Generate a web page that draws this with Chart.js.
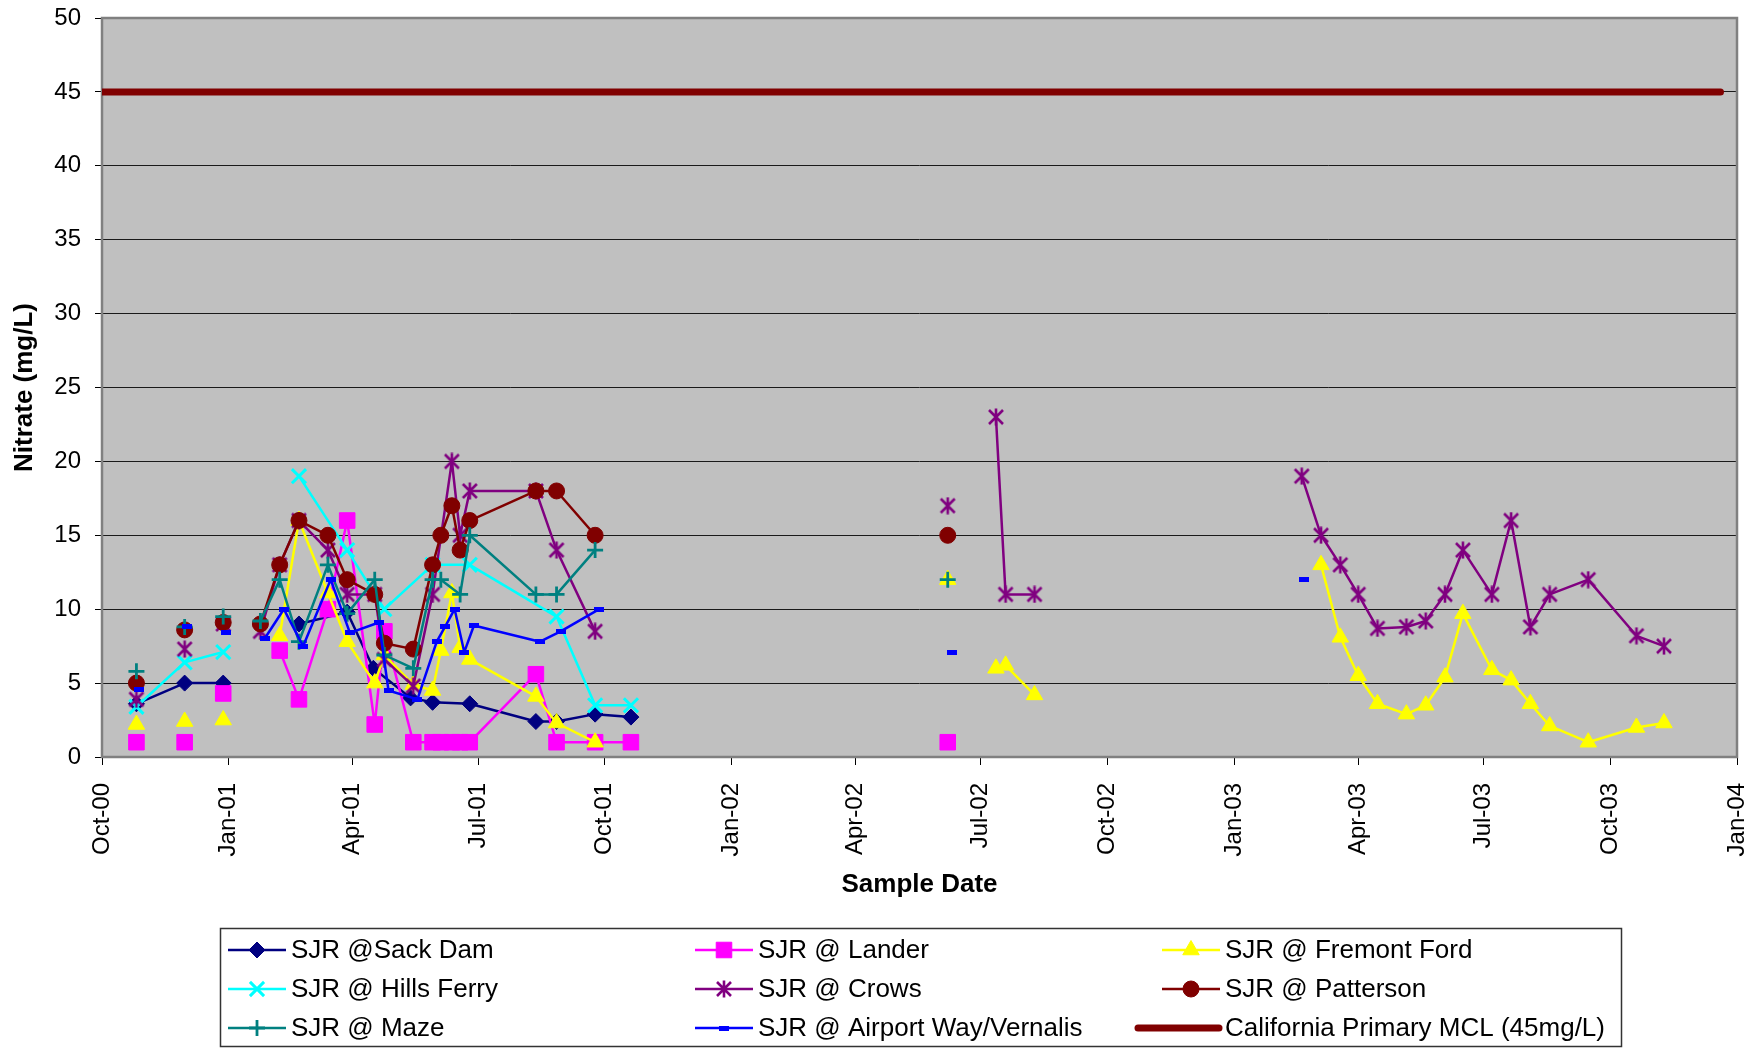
<!DOCTYPE html>
<html>
<head>
<meta charset="utf-8">
<title>Nitrate - San Joaquin River</title>
<script src="https://cdn.jsdelivr.net/npm/chart.js@4.4.1/dist/chart.umd.min.js"></script>
<style>
  html, body { margin: 0; padding: 0; background: #fff; }
  canvas { display: block; }
</style>
</head>
<body>
<canvas id="nitrate-chart" width="1758" height="1048"></canvas>
<script>
// values (mg/L). a null value = line is broken there
const sackDamDates = ["2000-10-26", "2000-11-30", "2000-12-28", "2001-01-24", "2001-02-21", "2001-03-28", "2001-04-16", "2001-05-13", "2001-05-29", "2001-06-25", "2001-08-12", "2001-08-27", "2001-09-24", "2001-10-20"];
const sackDamValues = [3.6, 5.0, 5.0, null, 9.0, 9.8, 6.0, 4.0, 3.7, 3.6, 2.4, 2.4, 2.9, 2.7];

const landerDates = ["2000-10-26", "2000-10-26", "2000-11-30", "2000-11-30", "2000-12-28", "2000-12-28", "2001-02-07", "2001-02-21", "2001-03-14", "2001-03-28", "2001-04-17", "2001-04-24", "2001-05-15", "2001-05-29", "2001-06-04", "2001-06-12", "2001-06-18", "2001-06-25", "2001-08-12", "2001-08-27", "2001-09-24", "2001-10-20", "2001-10-20", "2002-06-07"];
const landerValues = [1.0, null, 1.0, null, 4.3, null, 7.2, 3.9, 10.0, 16.0, 2.2, 8.5, 1.0, 1.0, 1.0, 1.0, 1.0, 1.0, 5.6, 1.0, 1.0, 1.0, null, 1.0];

const fremontDates = ["2000-10-26", "2000-10-26", "2000-11-30", "2000-11-30", "2000-12-28", "2000-12-28", "2001-02-07", "2001-02-21", "2001-03-14", "2001-03-28", "2001-04-17", "2001-04-24", "2001-05-15", "2001-05-29", "2001-06-04", "2001-06-12", "2001-06-18", "2001-06-25", "2001-08-12", "2001-08-27", "2001-09-24", "2001-09-24", "2002-06-07", "2002-06-07", "2002-07-12", "2002-07-19", "2002-08-09", "2002-08-09", "2003-03-05", "2003-03-19", "2003-04-01", "2003-04-15", "2003-05-06", "2003-05-20", "2003-06-03", "2003-06-16", "2003-07-07", "2003-07-21", "2003-08-04", "2003-08-18", "2003-09-15", "2003-10-20", "2003-11-09"];
const fremontValues = [2.2, null, 2.4, null, 2.5, null, 8.2, 16.0, 11.1, 7.8, 5.0, 6.9, 4.9, 4.5, 7.2, 11.1, 7.4, 6.6, 4.1, 2.3, 1.0, null, 12.0, null, 6.0, 6.2, 4.2, null, 13.0, 8.1, 5.5, 3.6, 2.9, 3.5, 5.4, 9.7, 5.9, 5.2, 3.6, 2.1, 1.0, 2.0, 2.3];

const hillsFerryDates = ["2000-10-26", "2000-11-30", "2000-12-28", "2001-01-24", "2001-02-21", "2001-03-28", "2001-04-24", "2001-05-29", "2001-06-25", "2001-08-27", "2001-09-24", "2001-10-20"];
const hillsFerryValues = [3.4, 6.4, 7.1, null, 19.0, 14.0, 10.0, 13.0, 13.0, 9.5, 3.5, 3.5];

const crowsDates = ["2000-10-26", "2000-10-26", "2000-11-30", "2000-11-30", "2000-12-28", "2000-12-28", "2001-01-24", "2001-02-07", "2001-02-21", "2001-03-14", "2001-03-28", "2001-04-17", "2001-04-24", "2001-05-15", "2001-05-29", "2001-06-12", "2001-06-18", "2001-06-25", "2001-08-12", "2001-08-27", "2001-09-24", "2001-09-24", "2002-06-07", "2002-06-07", "2002-07-12", "2002-07-19", "2002-08-09", "2002-08-09", "2003-02-19", "2003-03-05", "2003-03-19", "2003-04-01", "2003-04-15", "2003-05-06", "2003-05-20", "2003-06-03", "2003-06-16", "2003-07-07", "2003-07-21", "2003-08-04", "2003-08-18", "2003-09-15", "2003-10-20", "2003-11-09"];
const crowsValues = [3.9, null, 7.3, null, 9.0, null, 8.5, 13.0, 16.0, 14.0, 11.0, 11.0, 6.6, 4.8, 11.0, 20.0, 15.0, 18.0, 18.0, 14.0, 8.5, null, 17.0, null, 23.0, 11.0, 11.0, null, 19.0, 15.0, 13.0, 11.0, 8.7, 8.8, 9.2, 11.0, 14.0, 11.0, 16.0, 8.8, 11.0, 12.0, 8.2, 7.5];

const pattersonDates = ["2000-10-26", "2000-10-26", "2000-11-30", "2000-11-30", "2000-12-28", "2000-12-28", "2001-01-24", "2001-02-07", "2001-02-21", "2001-03-14", "2001-03-28", "2001-04-17", "2001-04-24", "2001-05-15", "2001-05-29", "2001-06-04", "2001-06-12", "2001-06-18", "2001-06-25", "2001-08-12", "2001-08-27", "2001-09-24", "2001-09-24", "2002-06-07"];
const pattersonValues = [5.0, null, 8.6, null, 9.1, null, 9.0, 13.0, 16.0, 15.0, 12.0, 11.0, 7.7, 7.3, 13.0, 15.0, 17.0, 14.0, 16.0, 18.0, 18.0, 15.0, null, 15.0];

const mazeDates = ["2000-10-26", "2000-10-26", "2000-11-30", "2000-11-30", "2000-12-28", "2000-12-28", "2001-01-24", "2001-02-07", "2001-02-21", "2001-03-14", "2001-03-28", "2001-04-17", "2001-04-24", "2001-05-15", "2001-05-29", "2001-06-04", "2001-06-18", "2001-06-25", "2001-08-12", "2001-08-27", "2001-09-24", "2001-09-24", "2002-06-07"];
const mazeValues = [5.8, null, 8.8, null, 9.5, null, 9.2, 12.0, 7.8, 13.0, 9.7, 12.0, 6.9, 6.0, 12.0, 12.0, 11.0, 15.0, 11.0, 11.0, 14.0, null, 12.0];

const airportDates = ["2000-10-28", "2000-10-28", "2000-12-02", "2000-12-02", "2000-12-30", "2000-12-30", "2001-01-27", "2001-02-10", "2001-02-24", "2001-03-16", "2001-03-30", "2001-04-20", "2001-04-27", "2001-05-18", "2001-06-01", "2001-06-07", "2001-06-14", "2001-06-21", "2001-06-28", "2001-08-15", "2001-08-30", "2001-09-27", "2001-09-27", "2002-06-10", "2002-06-10", "2003-02-21"];
const airportValues = [4.6, null, 8.8, null, 8.4, null, 8.0, 10.0, 7.5, 12.0, 8.4, 9.1, 4.5, 3.9, 7.8, 8.8, 10.0, 7.1, 8.9, 7.8, 8.5, 10.0, null, 7.1, null, 12.0];

const mclDates = ["2000-10-01", "2003-12-20"];
const mclValues = [45, 45];

const tickDates = ["2000-10-01", "2001-01-01", "2001-04-01", "2001-07-01", "2001-10-01", "2002-01-01", "2002-04-01", "2002-07-01", "2002-10-01", "2003-01-01", "2003-04-01", "2003-07-01", "2003-10-01", "2004-01-01"];
const tickLabels = ["Oct-00", "Jan-01", "Apr-01", "Jul-01", "Oct-01", "Jan-02", "Apr-02", "Jul-02", "Oct-02", "Jan-03", "Apr-03", "Jul-03", "Oct-03", "Jan-04"];

const FONT = "'Liberation Sans', Arial, sans-serif";
const DAY0 = Date.UTC(2000, 9, 1); // x = days since Oct 1 2000

function toDay(s) {
  return (Date.parse(s) - DAY0) / 86400000;
}

function toPoints(dates, values) {
  return dates.map((d, i) => ({ x: toDay(d), y: values[i] }));
}

// excel style asterisk: an x with a vertical bar through it
function starMarker(color) {
  const c = document.createElement("canvas");
  c.width = 18;
  c.height = 18;
  const g = c.getContext("2d");
  g.strokeStyle = color;
  g.lineWidth = 2.6;
  g.beginPath();
  g.moveTo(2, 2); g.lineTo(16, 16);
  g.moveTo(16, 2); g.lineTo(2, 16);
  g.moveTo(9, 0.5); g.lineTo(9, 17.5);
  g.stroke();
  return c;
}

function dashMarker(color) {
  const c = document.createElement("canvas");
  c.width = 10;
  c.height = 5;
  const g = c.getContext("2d");
  g.fillStyle = color;
  g.fillRect(0, 0, 10, 5);
  return c;
}

function series(label, dates, values, color, style, radius, pointBorder) {
  return {
    label: label,
    data: toPoints(dates, values),
    borderColor: color,
    backgroundColor: color,
    borderWidth: 2.5,
    borderJoinStyle: "round",
    pointStyle: style,
    pointRadius: radius,
    pointHoverRadius: radius,
    pointBorderWidth: pointBorder,
    pointBackgroundColor: color,
    pointBorderColor: color,
    spanGaps: false,
    tension: 0,
  };
}

const datasets = [
  series("SJR @Sack Dam", sackDamDates, sackDamValues, "#000080", "rectRot", 8, 1),
  series("SJR @ Lander", landerDates, landerValues, "#FF00FF", "rect", 11, 1),
  series("SJR @ Fremont Ford", fremontDates, fremontValues, "#FFFF00", "triangle", 9.5, 1),
  series("SJR @ Hills Ferry", hillsFerryDates, hillsFerryValues, "#00FFFF", "crossRot", 10, 3),
  series("SJR @ Crows", crowsDates, crowsValues, "#800080", starMarker("#800080"), 9, 1),
  series("SJR @ Patterson", pattersonDates, pattersonValues, "#800000", "circle", 8, 1),
  series("SJR @ Maze", mazeDates, mazeValues, "#008080", "cross", 8, 2.8),
  series("SJR @ Airport Way/Vernalis", airportDates, airportValues, "#0000FF", dashMarker("#0000FF"), 5, 1),
  {
    label: "California Primary MCL (45mg/L)",
    data: toPoints(mclDates, mclValues),
    borderColor: "#800000",
    backgroundColor: "#800000",
    borderWidth: 7,
    borderCapStyle: "round",
    pointRadius: 0,
    pointHoverRadius: 0,
  },
];
// excel paints later series on top
datasets.forEach((ds, i) => { ds.order = datasets.length - i; });

// grey plot area + frame
const plotArea = {
  id: "plotArea",
  beforeDraw(chart) {
    const { ctx, chartArea: a } = chart;
    ctx.save();
    ctx.fillStyle = "#fff";
    ctx.fillRect(0, 0, chart.width, chart.height);
    ctx.fillStyle = "#C0C0C0";
    ctx.fillRect(a.left, a.top, a.right - a.left, a.bottom - a.top);
    ctx.restore();
  },
  beforeDatasetsDraw(chart) {
    const { ctx, chartArea: a } = chart;
    ctx.save();
    ctx.strokeStyle = "#808080";
    ctx.lineWidth = 2.5;
    ctx.strokeRect(a.left, a.top, a.right - a.left, a.bottom - a.top);
    ctx.restore();
  },
};

// three column legend in a box under the axis
const boxLegend = {
  id: "boxLegend",
  afterDraw(chart) {
    const ctx = chart.ctx;
    const colX = [228, 695, 1162];
    const rowY = [950, 989, 1028];
    ctx.save();
    ctx.strokeStyle = "#333";
    ctx.lineWidth = 1.5;
    ctx.strokeRect(220.5, 928.5, 1401, 118);
    ctx.font = "26px " + FONT;
    ctx.textBaseline = "middle";
    chart.data.datasets.forEach((ds, i) => {
      const x = colX[i % 3];
      const y = rowY[Math.floor(i / 3)];
      ctx.strokeStyle = ds.borderColor;
      ctx.lineWidth = ds.borderWidth;
      ctx.lineCap = ds.borderCapStyle || "butt";
      ctx.beginPath();
      if (ds.pointRadius > 0) {
        ctx.moveTo(x, y);
        ctx.lineTo(x + 58, y);
      } else {
        ctx.moveTo(x - 24, y);
        ctx.lineTo(x + 57, y);
      }
      ctx.stroke();
      if (ds.pointRadius > 0) {
        ctx.fillStyle = ds.pointBackgroundColor;
        ctx.strokeStyle = ds.pointBorderColor;
        ctx.lineWidth = ds.pointBorderWidth;
        ctx.lineCap = "butt";
        Chart.helpers.drawPoint(ctx, {
          pointStyle: ds.pointStyle,
          radius: ds.pointRadius,
          rotation: 0,
          borderWidth: ds.pointBorderWidth,
        }, x + 29, y);
      }
      ctx.fillStyle = "#000";
      ctx.fillText(ds.label, x + 63, y + 1);
    });
    ctx.restore();
  },
};

new Chart(document.getElementById("nitrate-chart"), {
  type: "line",
  data: { datasets: datasets },
  plugins: [plotArea, boxLegend],
  options: {
    responsive: false,
    animation: false,
    layout: { padding: { left: 0, top: 18, right: 21, bottom: 143 } },
    plugins: {
      legend: { display: false },
      tooltip: { enabled: false },
    },
    scales: {
      x: {
        type: "linear",
        min: 0,
        max: toDay("2004-01-01"),
        afterBuildTicks: (scale) => {
          scale.ticks = tickDates.map((d) => ({ value: toDay(d) }));
        },
        afterFit: (scale) => {
          scale.height = 148;
          scale.paddingLeft = 0;
          scale.paddingRight = 0;
        },
        border: { display: false },
        grid: {
          drawOnChartArea: false,
          drawTicks: true,
          tickLength: 8,
          tickColor: "#000",
          tickWidth: 1,
        },
        ticks: {
          autoSkip: false,
          minRotation: 90,
          maxRotation: 90,
          padding: 18,
          color: "#000",
          font: { family: FONT, size: 24 },
          callback: (value, index) => tickLabels[index],
        },
        title: {
          display: true,
          text: "Sample Date",
          color: "#000",
          font: { family: FONT, size: 26, weight: "bold" },
          padding: { top: 0, bottom: 5 },
        },
      },
      y: {
        min: 0,
        max: 50,
        afterFit: (scale) => {
          scale.width = 102;
          scale.paddingTop = 0;
          scale.paddingBottom = 0;
        },
        border: { display: false },
        grid: {
          color: "#1a1a1a",
          lineWidth: 1,
          tickLength: 7,
          tickColor: "#000",
        },
        ticks: {
          stepSize: 5,
          padding: 14,
          color: "#000",
          font: { family: FONT, size: 24 },
        },
        title: {
          display: true,
          text: "Nitrate (mg/L)",
          color: "#000",
          font: { family: FONT, size: 26, weight: "bold" },
          padding: { top: 9, bottom: 0 },
        },
      },
    },
  },
});
</script>
</body>
</html>
